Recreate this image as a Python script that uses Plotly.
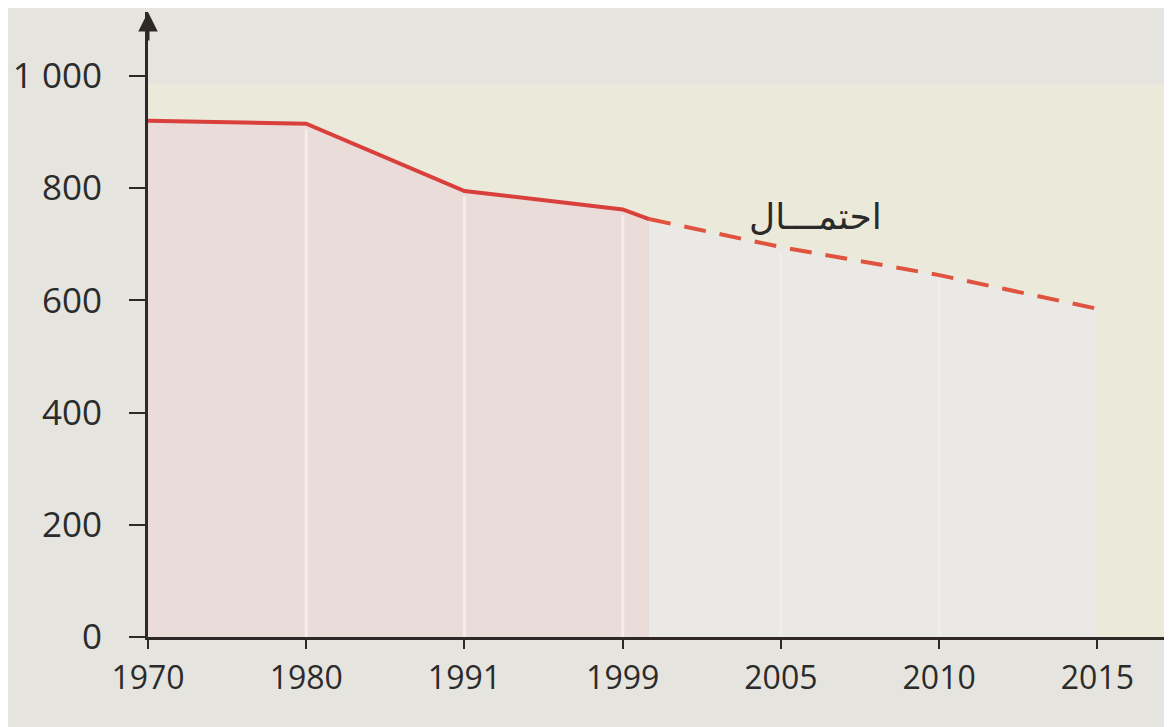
import plotly.graph_objects as go
import numpy as np

# axis years (the book's axis spaces them evenly, not by calendar)
years = [1970, 1980, 1991, 1999, 2005, 2010, 2015]
tick_labels = ['1970', '1980', '1991', '1999', '2005', '2010', '2015']

# observed series (solid) and projection (dashed)
observed_years = [1970, 1980, 1991, 1999, 2000]
observed_values = [920, 915, 795, 762, 745]
projection_years = [2000, 2005, 2010, 2015]
projection_values = [745, 695, 645, 585]

y_ticks = [0, 200, 400, 600, 800, 1000]
y_labels = ['0', '200', '400', '600', '800', '1 000']

label_text = 'احتمـــال'

slots = np.arange(len(years))
x_obs = np.interp(observed_years, years, slots)
x_proj = np.interp(projection_years, years, slots)

axis_col = '#2e2826'
red = '#d9403b'

fig = go.Figure()

fig.add_trace(go.Scatter(
    x=x_obs, y=observed_values, mode='lines',
    fill='tozeroy', fillcolor='#eadcd9',
    line=dict(color=red, width=4),
    hoverinfo='skip', showlegend=False))

fig.add_trace(go.Scatter(
    x=x_proj, y=projection_values, mode='lines',
    fill='tozeroy', fillcolor='#ebe9e5',
    line=dict(color='#e0533f', width=4, dash='22px,14px'),
    hoverinfo='skip', showlegend=False))

shapes = []
# light cream band behind the plot
shapes.append(dict(type='rect', xref='x', yref='y', x0=0, x1=6.44, y0=0, y1=985,
                   fillcolor='#ebe9da', line=dict(width=0), layer='below'))

# white separators under the curve
all_years = observed_years[:-1] + projection_years
all_values = observed_values[:-1] + projection_values
for yr in years[1:-1]:
    top = np.interp(yr, all_years, all_values) - 10
    col = '#f3eeec' if yr < 2000 else '#efeeea'
    shapes.append(dict(type='line', xref='x', yref='y',
                       x0=np.interp(yr, years, slots), x1=np.interp(yr, years, slots),
                       y0=0, y1=top, line=dict(color=col, width=3)))

fig.update_layout(
    width=1164, height=719,
    margin=dict(l=140, r=5, t=4, b=90),
    paper_bgcolor='#e6e4de', plot_bgcolor='#e6e4de',
    shapes=shapes,
    xaxis=dict(range=[0, 6.44], tickvals=slots, ticktext=tick_labels,
               showline=True, linecolor=axis_col, linewidth=3,
               ticks='outside', ticklen=9, tickwidth=2, tickcolor=axis_col,
               showgrid=False, zeroline=False, ticklabelstandoff=2,
               tickfont=dict(family='Open Sans', size=32, color='#2b2b2b')),
    yaxis=dict(range=[0, 1114], tickvals=y_ticks, ticktext=y_labels,
               showline=True, linecolor=axis_col, linewidth=3,
               ticks='outside', ticklen=16, tickwidth=2, tickcolor=axis_col,
               showgrid=False, zeroline=False, ticklabelstandoff=20,
               tickfont=dict(family='Open Sans', size=35, color='#2b2b2b')),
)

# arrow at the top of the y axis
fig.add_annotation(x=0, y=1, xref='x', yref='paper', text='',
                   showarrow=True, ax=0, ay=30, arrowhead=2, arrowsize=1.3,
                   arrowwidth=3, arrowcolor=axis_col)

fig.add_annotation(x=4.22, y=750, xref='x', yref='y', text=label_text,
                   showarrow=False,
                   font=dict(family='DejaVu Sans', size=36, color='#2a2a2a'))

fig.write_html('out.html')
